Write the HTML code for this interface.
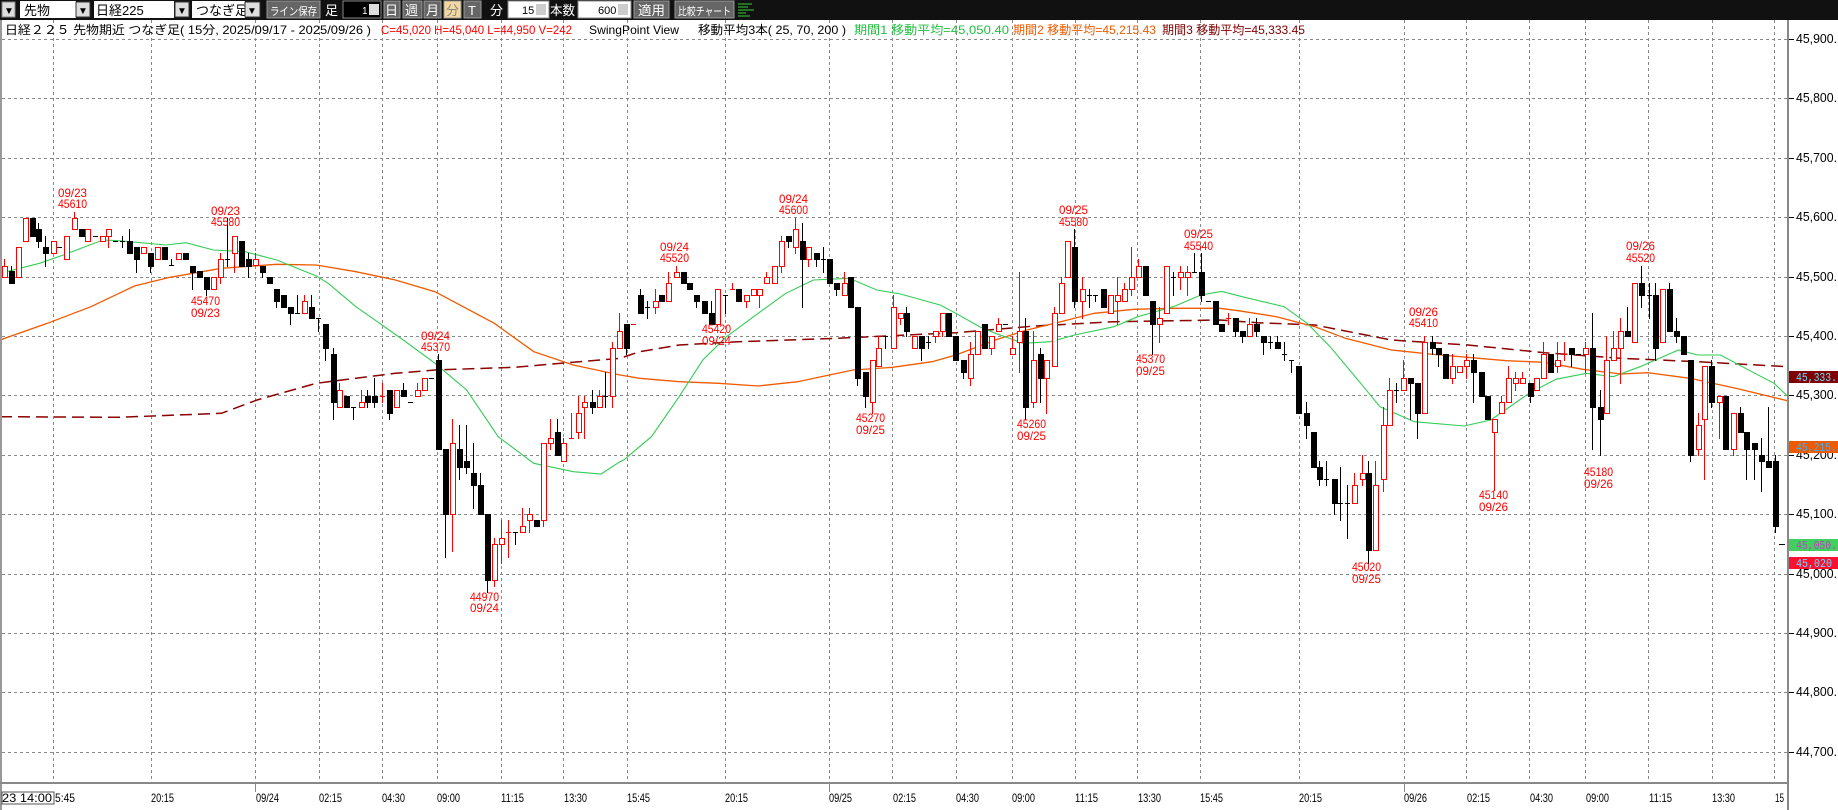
<!DOCTYPE html>
<html><head><meta charset="utf-8">
<style>
html,body{margin:0;padding:0;background:#fff;width:1838px;height:810px;overflow:hidden}
svg{display:block}
text{font-family:"Liberation Sans","Noto Sans CJK JP",sans-serif}
.m{font-family:"Liberation Mono","Noto Sans CJK JP",monospace}
</style></head><body>
<svg id="s" width="1838" height="810" viewBox="0 0 1838 810" xmlns="http://www.w3.org/2000/svg" shape-rendering="crispEdges">
<rect x="0" y="0" width="1838" height="810" fill="#fff"/>
<g id="grid"></g>
<g id="ma"></g>
<g id="cd"></g>
<!-- toolbar -->
<rect x="0" y="0" width="1838" height="20" fill="#111"/>
<g font-size="13">
<rect x="2" y="2" width="13" height="15" fill="#ddd" stroke="#888"/><text x="4" y="14" font-size="10" fill="#000">▼</text>
<rect x="20" y="1" width="56" height="17" fill="#fff"/><text x="24" y="15" fill="#000">先物</text>
<rect x="76" y="2" width="14" height="15" fill="#ddd" stroke="#333"/><text x="78" y="14" font-size="10" fill="#000">▼</text>
<rect x="94" y="1" width="80" height="17" fill="#fff"/><text x="96" y="15" fill="#000">日経225</text>
<rect x="175" y="2" width="14" height="15" fill="#ddd" stroke="#333"/><text x="177" y="14" font-size="10" fill="#000">▼</text>
<rect x="192" y="1" width="53" height="17" fill="#fff"/><text x="196" y="15" fill="#000">つなぎ足</text>
<rect x="245" y="2" width="15" height="15" fill="#ddd" stroke="#333"/><text x="247" y="14" font-size="10" fill="#000">▼</text>
<rect x="267" y="1" width="53" height="17" fill="#666" stroke="#999"/><text x="270" y="15" font-size="11" fill="#fff" textLength="47" lengthAdjust="spacingAndGlyphs">ライン保存</text>
<text x="325" y="15" fill="#fff">足</text>
<rect x="343" y="1" width="38" height="17" fill="#000" stroke="#888"/><text x="362" y="14" font-size="10" fill="#fff">1</text><rect x="369" y="4" width="10" height="11" fill="#ddd"/>
<rect x="384" y="1" width="16" height="17" fill="#666" stroke="#999"/><text x="385" y="15" fill="#fff">日</text>
<rect x="403" y="1" width="19" height="17" fill="#666" stroke="#999"/><text x="405" y="15" fill="#fff">週</text>
<rect x="424" y="1" width="17" height="17" fill="#666" stroke="#999"/><text x="426" y="15" fill="#fff">月</text>
<rect x="444" y="1" width="17" height="17" fill="#f3d9a0" stroke="#999"/><text x="446" y="15" fill="#888">分</text>
<rect x="464" y="1" width="17" height="17" fill="#666" stroke="#999"/><text x="468" y="15" fill="#fff">T</text>
<text x="490" y="15" fill="#fff">分</text>
<rect x="508" y="1" width="41" height="17" fill="#fff" stroke="#888"/><text x="522" y="14" font-size="11" fill="#000">15</text><rect x="536" y="4" width="10" height="11" fill="#ccc"/>
<text x="550" y="15" fill="#fff" textLength="25" lengthAdjust="spacingAndGlyphs">本数</text>
<rect x="578" y="1" width="53" height="17" fill="#fff" stroke="#888"/><text x="598" y="14" font-size="11" fill="#000">600</text><rect x="618" y="4" width="10" height="11" fill="#ccc"/>
<rect x="634" y="1" width="35" height="17" fill="#666" stroke="#999"/><text x="638" y="15" fill="#fff" textLength="27" lengthAdjust="spacingAndGlyphs">適用</text>
<rect x="675" y="1" width="59" height="17" fill="#666" stroke="#999"/><text x="678" y="15" font-size="11" fill="#fff" textLength="53" lengthAdjust="spacingAndGlyphs">比較チャート</text>
<g stroke="#3c3" stroke-width="1"><line x1="738" y1="4" x2="752" y2="4"/><line x1="738" y1="7" x2="748" y2="7"/><line x1="738" y1="10" x2="754" y2="10"/><line x1="738" y1="13" x2="746" y2="13"/><line x1="738" y1="16" x2="750" y2="16"/></g>
</g>
<!-- info line -->
<g font-size="12">
<text x="5" y="34" fill="#000" textLength="366" lengthAdjust="spacingAndGlyphs">日経２２５ 先物期近 つなぎ足( 15分, 2025/09/17 - 2025/09/26 )</text>
<text x="381" y="34" fill="#ff0000" textLength="191" lengthAdjust="spacingAndGlyphs">C=45,020 H=45,040 L=44,950 V=242</text>
<text x="589" y="34" fill="#000" textLength="90" lengthAdjust="spacingAndGlyphs">SwingPoint View</text>
<text x="698" y="34" fill="#000" textLength="148" lengthAdjust="spacingAndGlyphs">移動平均3本( 25, 70, 200 )</text>
<text x="854" y="34" fill="#22c040" textLength="155" lengthAdjust="spacingAndGlyphs">期間1 移動平均=45,050.40</text>
<text x="1013" y="34" fill="#f05a00" textLength="143" lengthAdjust="spacingAndGlyphs">期間2 移動平均=45,215.43</text>
<text x="1162" y="34" fill="#800000" textLength="143" lengthAdjust="spacingAndGlyphs">期間3 移動平均=45,333.45</text>
</g>
<!-- axes -->
<rect x="0" y="20" width="2" height="790" fill="#999"/>
<rect x="1787" y="20" width="2" height="790" fill="#888"/>
<rect x="0" y="782" width="1789" height="2" fill="#888"/>
<g id="ptick"></g>
<g class="m" font-size="13" fill="#000">
<text x="1796" y="43" textLength="41" lengthAdjust="spacingAndGlyphs">45,900.</text>
<text x="1796" y="102" textLength="41" lengthAdjust="spacingAndGlyphs">45,800.</text>
<text x="1796" y="162" textLength="41" lengthAdjust="spacingAndGlyphs">45,700.</text>
<text x="1796" y="221" textLength="41" lengthAdjust="spacingAndGlyphs">45,600.</text>
<text x="1796" y="281" textLength="41" lengthAdjust="spacingAndGlyphs">45,500.</text>
<text x="1796" y="340" textLength="41" lengthAdjust="spacingAndGlyphs">45,400.</text>
<text x="1796" y="399" textLength="41" lengthAdjust="spacingAndGlyphs">45,300.</text>
<text x="1796" y="459" textLength="41" lengthAdjust="spacingAndGlyphs">45,200.</text>
<text x="1796" y="518" textLength="41" lengthAdjust="spacingAndGlyphs">45,100.</text>
<text x="1796" y="578" textLength="41" lengthAdjust="spacingAndGlyphs">45,000.</text>
<text x="1796" y="637" textLength="41" lengthAdjust="spacingAndGlyphs">44,900.</text>
<text x="1796" y="696" textLength="41" lengthAdjust="spacingAndGlyphs">44,800.</text>
<text x="1796" y="756" textLength="41" lengthAdjust="spacingAndGlyphs">44,700.</text>
</g>
<!-- price tags -->
<rect x="1789" y="371" width="49" height="12" fill="#800000"/><text class="m" x="1796" y="381" font-size="12" fill="#60e0ff" textLength="41" lengthAdjust="spacingAndGlyphs">45,333.</text>
<rect x="1789" y="441" width="49" height="12" fill="#ee5a00"/><text class="m" x="1796" y="451" font-size="12" fill="#3ab0ff" textLength="41" lengthAdjust="spacingAndGlyphs">45,215.</text>
<rect x="1789" y="539" width="49" height="12" fill="#40d060"/><text class="m" x="1796" y="549" font-size="12" fill="#c040c0" textLength="41" lengthAdjust="spacingAndGlyphs">45,050.</text>
<rect x="1789" y="557" width="49" height="12" fill="#ff1030"/><text class="m" x="1796" y="567" font-size="12" fill="#60e0ff" textLength="36" lengthAdjust="spacingAndGlyphs">45,020</text>
<!-- time labels -->
<g font-size="12" fill="#000">
<rect x="2" y="792" width="52" height="12" fill="#fff" stroke="#555"/>
<text x="2" y="802" textLength="50" lengthAdjust="spacingAndGlyphs">23  14:00</text>
<text x="55" y="802" textLength="20" lengthAdjust="spacingAndGlyphs">5:45</text>
<text x="151" y="802" textLength="23" lengthAdjust="spacingAndGlyphs">20:15</text>
<text x="256" y="802" textLength="23" lengthAdjust="spacingAndGlyphs">09/24</text>
<text x="319" y="802" textLength="23" lengthAdjust="spacingAndGlyphs">02:15</text>
<text x="382" y="802" textLength="23" lengthAdjust="spacingAndGlyphs">04:30</text>
<text x="437" y="802" textLength="23" lengthAdjust="spacingAndGlyphs">09:00</text>
<text x="501" y="802" textLength="23" lengthAdjust="spacingAndGlyphs">11:15</text>
<text x="564" y="802" textLength="23" lengthAdjust="spacingAndGlyphs">13:30</text>
<text x="627" y="802" textLength="23" lengthAdjust="spacingAndGlyphs">15:45</text>
<text x="725" y="802" textLength="23" lengthAdjust="spacingAndGlyphs">20:15</text>
<text x="829" y="802" textLength="23" lengthAdjust="spacingAndGlyphs">09/25</text>
<text x="893" y="802" textLength="23" lengthAdjust="spacingAndGlyphs">02:15</text>
<text x="956" y="802" textLength="23" lengthAdjust="spacingAndGlyphs">04:30</text>
<text x="1012" y="802" textLength="23" lengthAdjust="spacingAndGlyphs">09:00</text>
<text x="1075" y="802" textLength="23" lengthAdjust="spacingAndGlyphs">11:15</text>
<text x="1138" y="802" textLength="23" lengthAdjust="spacingAndGlyphs">13:30</text>
<text x="1200" y="802" textLength="23" lengthAdjust="spacingAndGlyphs">15:45</text>
<text x="1299" y="802" textLength="23" lengthAdjust="spacingAndGlyphs">20:15</text>
<text x="1404" y="802" textLength="23" lengthAdjust="spacingAndGlyphs">09/26</text>
<text x="1467" y="802" textLength="23" lengthAdjust="spacingAndGlyphs">02:15</text>
<text x="1530" y="802" textLength="23" lengthAdjust="spacingAndGlyphs">04:30</text>
<text x="1586" y="802" textLength="23" lengthAdjust="spacingAndGlyphs">09:00</text>
<text x="1649" y="802" textLength="23" lengthAdjust="spacingAndGlyphs">11:15</text>
<text x="1712" y="802" textLength="23" lengthAdjust="spacingAndGlyphs">13:30</text>
<text x="1775" y="802" textLength="9" lengthAdjust="spacingAndGlyphs">15</text>
</g>
<!-- swing annotations -->
<g font-size="12" fill="#ff0000">
<text x="58" y="197" textLength="29" lengthAdjust="spacingAndGlyphs">09/23</text><text x="58" y="208" textLength="29" lengthAdjust="spacingAndGlyphs">45610</text>
<text x="211" y="215" textLength="29" lengthAdjust="spacingAndGlyphs">09/23</text><text x="211" y="226" textLength="29" lengthAdjust="spacingAndGlyphs">45580</text>
<text x="191" y="305" textLength="29" lengthAdjust="spacingAndGlyphs">45470</text><text x="191" y="317" textLength="29" lengthAdjust="spacingAndGlyphs">09/23</text>
<text x="421" y="340" textLength="29" lengthAdjust="spacingAndGlyphs">09/24</text><text x="421" y="351" textLength="29" lengthAdjust="spacingAndGlyphs">45370</text>
<text x="470" y="601" textLength="29" lengthAdjust="spacingAndGlyphs">44970</text><text x="470" y="612" textLength="29" lengthAdjust="spacingAndGlyphs">09/24</text>
<text x="660" y="251" textLength="29" lengthAdjust="spacingAndGlyphs">09/24</text><text x="660" y="262" textLength="29" lengthAdjust="spacingAndGlyphs">45520</text>
<text x="702" y="333" textLength="29" lengthAdjust="spacingAndGlyphs">45420</text><text x="702" y="345" textLength="29" lengthAdjust="spacingAndGlyphs">09/24</text>
<text x="779" y="203" textLength="29" lengthAdjust="spacingAndGlyphs">09/24</text><text x="779" y="214" textLength="29" lengthAdjust="spacingAndGlyphs">45600</text>
<text x="856" y="422" textLength="29" lengthAdjust="spacingAndGlyphs">45270</text><text x="856" y="434" textLength="29" lengthAdjust="spacingAndGlyphs">09/25</text>
<text x="1059" y="214" textLength="29" lengthAdjust="spacingAndGlyphs">09/25</text><text x="1059" y="226" textLength="29" lengthAdjust="spacingAndGlyphs">45580</text>
<text x="1017" y="428" textLength="29" lengthAdjust="spacingAndGlyphs">45260</text><text x="1017" y="440" textLength="29" lengthAdjust="spacingAndGlyphs">09/25</text>
<text x="1136" y="363" textLength="29" lengthAdjust="spacingAndGlyphs">45370</text><text x="1136" y="375" textLength="29" lengthAdjust="spacingAndGlyphs">09/25</text>
<text x="1184" y="238" textLength="29" lengthAdjust="spacingAndGlyphs">09/25</text><text x="1184" y="250" textLength="29" lengthAdjust="spacingAndGlyphs">45540</text>
<text x="1409" y="316" textLength="29" lengthAdjust="spacingAndGlyphs">09/26</text><text x="1409" y="327" textLength="29" lengthAdjust="spacingAndGlyphs">45410</text>
<text x="1352" y="571" textLength="29" lengthAdjust="spacingAndGlyphs">45020</text><text x="1352" y="583" textLength="29" lengthAdjust="spacingAndGlyphs">09/25</text>
<text x="1479" y="499" textLength="29" lengthAdjust="spacingAndGlyphs">45140</text><text x="1479" y="511" textLength="29" lengthAdjust="spacingAndGlyphs">09/26</text>
<text x="1584" y="476" textLength="29" lengthAdjust="spacingAndGlyphs">45180</text><text x="1584" y="488" textLength="29" lengthAdjust="spacingAndGlyphs">09/26</text>
<text x="1626" y="250" textLength="29" lengthAdjust="spacingAndGlyphs">09/26</text><text x="1626" y="262" textLength="29" lengthAdjust="spacingAndGlyphs">45520</text>
</g>
</svg>
<script>
(function(){
var NS="http://www.w3.org/2000/svg";
function el(p,t,a){var e=document.createElementNS(NS,t);for(var k in a)e.setAttribute(k,a[k]);p.appendChild(e);return e;}
var grid=document.getElementById("grid"),ma=document.getElementById("ma"),cd=document.getElementById("cd"),pt=document.getElementById("ptick");
function Y(p){return 39+(45900-p)*0.5939;}
for(var p=45900;p>=44700;p-=100){var y=Math.round(Y(p))+0.5;
 el(grid,"line",{x1:2,y1:y,x2:1787,y2:y,stroke:"#888","stroke-dasharray":"3,3"});
 el(pt,"line",{x1:1789,y1:y,x2:1794,y2:y,stroke:"#000"});}
var gx=[52.8,150.8,255.3,318.7,381.5,437.2,500.6,563.4,626.8,724.8,829.2,892,955.6,1011.8,1074.6,1137.4,1200.2,1298.9,1403.6,1466.4,1529.2,1585.4,1648.2,1711.6,1774.4];
var dates=[255.3,829.2,1403.6];
gx.forEach(function(x){x=Math.round(x)+0.5;
 el(grid,"line",{x1:x,y1:20,x2:x,y2:782,stroke:"#888","stroke-dasharray":"3,3"});
});
dates.forEach(function(x){x=Math.round(x)+0.5;el(grid,"line",{x1:x,y1:784,x2:x,y2:792,stroke:"#888"});});
function X6(z){return z/2.529;} function X7(z){return 600+z/2.529;} function X8(z){return 1200+z/2.613;}
function YZ(z){return 170+z/3;}
var Z6=[[10,287,322,'r',268,322],[27,303,340,'b',287,340],[45,232,322,'r'],[62,143,214,'r'],[80,143,197,'b'],[97,178,214,'b',160,232],[115,232,250,'b',197,287],[133,214,250,'r'],[150,232,232,'b'],[168,197,268,'r'],[186,143,178,'r',125,178],[204,178,197,'b'],[221,178,214,'r'],[239,197,197,'b'],[257,197,214,'r'],[274,178,197,'r',178,232],[292,214,214,'b'],[309,214,214,'b',197,232],[327,214,250,'b',178,250],[345,232,268,'b',232,305],[362,232,250,'r'],[380,250,287,'b',250,305],[398,232,268,'r'],[415,232,268,'b'],[433,285,285,'b',268,285],[450,250,268,'r'],[468,250,268,'b'],[486,287,305,'b',287,358],[504,303,322,'b'],[521,322,358,'b',322,376],[539,322,358,'r'],[557,268,322,'r',250,340],[575,268,268,'b',143,287],[593,197,250,'r',197,305],[610,214,287,'b'],[628,268,287,'b',250,322],[646,268,285,'r',250,285],[663,287,305,'b',287,322],[681,322,340,'b'],[699,358,392,'b',358,410],[716,376,410,'b'],[734,410,428,'b',410,463],[752,428,428,'b',376,428],[769,392,428,'r',376,428],[787,410,445,'b',376,445],[805,445,445,'b',445,482],[823,463,535,'b',463,570],[841,553,695,'b',535,748],[858,659,712,'r',640,712],[876,677,712,'b'],[894,712,712,'b',712,748],[912,695,712,'r',659,712],[929,677,695,'b',659,712],[947,677,695,'b',623,712],[965,677,677,'r',640,695],[983,659,730,'b',659,748],[1001,659,712,'r'],[1019,659,677,'b',640,677],[1036,695,695,'b'],[1054,659,677,'r',640,677],[1072,623,659,'r'],[1090,623,623,'b'],[1107,570,838,'b',553,838],[1125,838,1033,'b',838,1160],[1142,820,1033,'r',748,1142],[1160,838,892,'b',765,927],[1178,874,892,'b',765,909],[1196,909,945,'b',820,1015],[1213,945,1033,'b',909,1033],[1231,1033,1230,'b',1033,1265],[1249,1122,1230,'r',1105,1247],[1267,1105,1122,'r',1050,1180],[1284,1087,1087,'r',1050,1160],[1302,1087,1087,'b',1087,1122],[1320,1069,1087,'r',1015,1087],[1337,1033,1051,'r',1015,1087],[1355,1051,1069,'b'],[1372,820,1051,'r',820,1069],[1390,803,820,'r',748,838],[1408,785,856,'b',748,856],[1425,820,874,'r',803,874],[1443,803,803,'r',730,803],[1461,730,785,'r',677,803],[1478,695,712,'r',677,803],[1496,695,712,'b',659,730],[1514,677,712,'r',659,712],[1531,677,677,'b',605,712],[1549,535,677,'r',517,712]];
var Z7=[[48,482,535,'r',428,535],[66,463,535,'b',463,553],[84,463,463,'r'],[102,376,428,'b',358,428],[120,410,410,'b',392,445],[138,392,410,'r',358,428],[155,376,392,'b'],[173,340,392,'r',305,392],[191,305,322,'r',287,322],[209,305,340,'b'],[226,340,358,'b'],[244,376,392,'b',376,410],[262,392,428,'b'],[280,428,463,'b',392,463],[297,358,463,'r'],[315,376,376,'b',376,428],[333,356,356,'r',340,356],[350,358,392,'b'],[368,376,392,'r',376,410],[386,358,376,'r'],[403,358,376,'r',358,410],[421,322,340,'r',305,340],[439,287,340,'r'],[457,214,287,'r',197,305],[475,197,214,'b',197,232],[492,178,232,'r',143,250],[510,214,268,'b',160,410],[527,232,268,'r',232,287],[545,250,268,'b',250,287],[563,268,268,'b',232,305],[580,268,340,'b'],[598,340,358,'b',340,376],[616,340,376,'r',305,376],[633,322,410,'b'],[651,410,625,'b',410,645],[669,605,677,'b',605,712],[687,570,695,'r',570,730],[704,535,589,'r',499,589],[722,499,499,'b',499,535],[740,410,535,'r',376,535],[758,428,445,'r',428,463],[775,428,482,'b',410,499],[793,499,535,'r'],[811,499,535,'b',499,570],[829,517,517,'b',499,535],[846,482,499,'r',482,517],[864,428,482,'r',428,499],[881,428,499,'b'],[899,499,570,'b'],[917,570,605,'b',570,625],[935,553,625,'r',517,645],[953,482,553,'r'],[970,463,535,'b'],[988,499,535,'r',499,553],[1006,463,482,'r',445,482],[1023,463,463,'b'],[1041,535,553,'r',499,553],[1059,482,517,'r',305,605],[1076,482,712,'b',445,748],[1094,570,695,'r',482,712],[1112,553,625,'b',535,695],[1129,570,625,'r',570,730],[1147,428,589,'r',410,589],[1165,340,428,'r',322,428],[1182,214,322,'r'],[1200,232,392,'b',178,410],[1218,358,392,'r',322,445],[1236,376,376,'b',358,410],[1253,376,376,'b',376,392],[1271,358,410,'b'],[1289,376,428,'r'],[1307,376,392,'r',322,463],[1324,358,392,'r',340,392],[1342,322,358,'r',232,376],[1360,287,322,'r',268,322],[1378,287,376,'b'],[1395,392,463,'b',392,553],[1413,445,463,'r',410,517],[1431,287,428,'r'],[1449,322,322,'b',305,376],[1466,305,322,'r',287,358],[1484,305,322,'r',287,376],[1502,305,305,'b',250,305],[1519,305,376,'b',250,392],[1537,392,392,'b'],[1555,392,463,'b']];
var Z8=[[55,463,482,'b'],[73,445,445,'r',428,463],[92,445,482,'b',445,499],[110,482,499,'b',482,517],[128,463,499,'r',445,499],[147,463,482,'b',445,499],[165,499,517,'b',499,553],[183,517,517,'b',499,535],[202,517,535,'b',499,535],[220,553,553,'b',517,570],[239,570,570,'b',570,605],[257,589,730,'b'],[276,730,765,'b',695,803],[294,785,892,'b'],[312,892,927,'b',874,945],[330,927,927,'b',874,945],[349,927,998,'b',927,1033],[367,998,998,'b',892,1051],[385,998,998,'b',945,1105],[403,945,998,'r',909,998],[422,909,927,'r',856,945],[440,909,1140,'b',874,1178],[458,945,1140,'r',874,1140],[477,765,927,'r',712,963],[495,659,765,'r',625,765],[513,659,659,'b',640,695],[531,625,659,'r',570,659],[550,625,640,'b',625,748],[568,640,730,'b',640,803],[586,517,730,'r',499,730],[605,517,535,'b',499,553],[623,535,553,'b',535,589],[641,553,625,'b'],[659,589,625,'r',553,640],[678,589,605,'r'],[696,570,589,'r',553,625],[714,570,605,'b',553,695],[733,605,677,'b'],[751,677,748,'b'],[769,748,785,'r',748,960],[787,695,730,'r',677,730],[806,625,695,'r',589,695],[824,625,640,'r',605,659],[842,625,640,'r',605,640],[861,640,677,'b',640,695],[879,625,659,'r'],[897,553,625,'r',517,625],[915,553,605,'b'],[934,570,589,'r',517,605],[952,553,553,'r',517,570],[970,535,553,'b',535,589],[989,553,553,'b'],[1007,535,553,'r',517,605],[1025,535,712,'b',428,838],[1044,712,748,'b',659,856],[1062,570,730,'r',499,730],[1080,535,570,'r',482,570],[1098,482,535,'r',445,640],[1117,482,499,'b',410,499],[1135,340,517,'r'],[1153,340,376,'b',287,410],[1172,376,376,'b',340,445],[1190,376,535,'b',340,570],[1208,358,517,'r'],[1226,358,482,'b',340,482],[1245,482,499,'b',445,517],[1263,499,553,'b'],[1281,570,856,'b',570,874],[1300,765,838,'r',730,856],[1318,589,748,'r',589,927],[1336,589,695,'b',570,712],[1355,677,695,'r',677,803],[1373,677,838,'b'],[1392,730,838,'r',730,856],[1410,730,785,'b',712,785],[1428,785,838,'b',785,927],[1447,820,838,'b',820,927],[1465,856,874,'b',803,963],[1484,874,892,'b',712,892],[1502,874,1069,'b',856,1087]];
function pl(pts,col,dash,w){var s=pts.map(function(q){return q[0].toFixed(1)+","+YZ(q[1]).toFixed(1);}).join(" ");
 var a={points:s,fill:"none",stroke:col,"stroke-width":w,"shape-rendering":"auto"};if(dash)a["stroke-dasharray"]=dash;el(ma,"polyline",a);}
var G6=[[0,310],[100,280],[160,255],[260,210],[300,212],[420,225],[470,218],[540,240],[620,245],[700,270],[800,318],[830,340],[900,410],[960,460],[1020,510],[1100,580],[1180,660],[1260,800],[1350,880],[1450,905],[1520,912],[1568,875]];
var G7=[[60,870],[130,800],[200,680],[260,570],[320,500],[400,430],[470,370],[540,330],[630,325],[700,360],[760,372],[860,405],[900,430],[960,470],[1000,490],[1070,520],[1140,515],[1200,495],[1300,470],[1360,440],[1450,410],[1520,375],[1568,365]];
var G8=[[60,365],[110,380],[220,410],[280,460],[340,530],[420,640],[470,710],[560,755],[690,768],[760,750],[860,670],[930,628],[1010,610],[1080,620],[1150,590],[1250,540],[1300,555],[1360,555],[1450,610],[1500,640],[1535,678]];
var O6=[[0,510],[120,460],[230,410],[340,348],[430,322],[560,295],[700,283],[800,285],[900,305],[1000,330],[1100,365],[1250,460],[1350,545],[1450,585],[1568,615]];
var O7=[[100,625],[200,635],[300,640],[400,648],[500,635],[580,615],[640,600],[740,592],[840,575],[900,555],[1000,510],[1080,480],[1150,460],[1250,430],[1350,418],[1450,415],[1568,415]];
var O8=[[100,422],[200,440],[300,470],[380,505],[500,540],[600,552],[800,572],[900,577],[1000,598],[1100,612],[1170,608],[1280,625],[1400,655],[1535,692]];
var D6=[[0,740],[300,742],[560,730],[650,690],[800,640],[1000,610],[1100,600],[1300,592],[1568,565]];
var D7=[[100,545],[200,525],[350,515],[600,505],[900,488],[1100,468],[1300,455],[1568,450]];
var D8=[[150,458],[300,465],[500,510],[700,525],[900,548],[1100,565],[1300,575],[1535,590]];
function merge(a,b,c){var r=[];a.forEach(function(q){r.push([X6(q[0]),q[1]]);});b.forEach(function(q){r.push([X7(q[0]),q[1]]);});c.forEach(function(q){r.push([X8(q[0]),q[1]]);});return r;}
pl(merge(D6,D7,D8),"#8b0000","12,6",1.5);
pl(merge(O6,O7,O8),"#f05a00",null,1.3);
pl(merge(G6,G7,G8),"#33cc55",null,1.1);
function draw(list,fx){list.forEach(function(c){var x=Math.round(fx(c[0]));var t=YZ(c[1]),b=YZ(c[2]);
 var wt=c.length>4?YZ(c[4]):t,wb=c.length>4?YZ(c[5]):b;var col=c[3]=='r'?"#ff0000":"#000";
 if(wt>t)wt=t;if(wb<b)wb=b;
 el(cd,"line",{x1:x+0.5,y1:Math.round(wt),x2:x+0.5,y2:Math.round(wb)+1,stroke:col});
 var tt=Math.round(t),bb=Math.round(b);
 if(bb-tt<2){el(cd,"line",{x1:x-2,y1:tt+0.5,x2:x+3,y2:tt+0.5,stroke:col});}
 else if(c[3]=='r'){el(cd,"rect",{x:x-2+0.5,y:tt+0.5,width:5,height:bb-tt,fill:"#fff",stroke:col});}
 else{el(cd,"rect",{x:x-2,y:tt,width:6,height:bb-tt+1,fill:"#000"});}
});}
draw(Z6,X6);draw(Z7,X7);draw(Z8,X8);
el(cd,"line",{x1:1779,y1:544.5,x2:1785,y2:544.5,stroke:"#000"});
})();
</script>
</body></html>
